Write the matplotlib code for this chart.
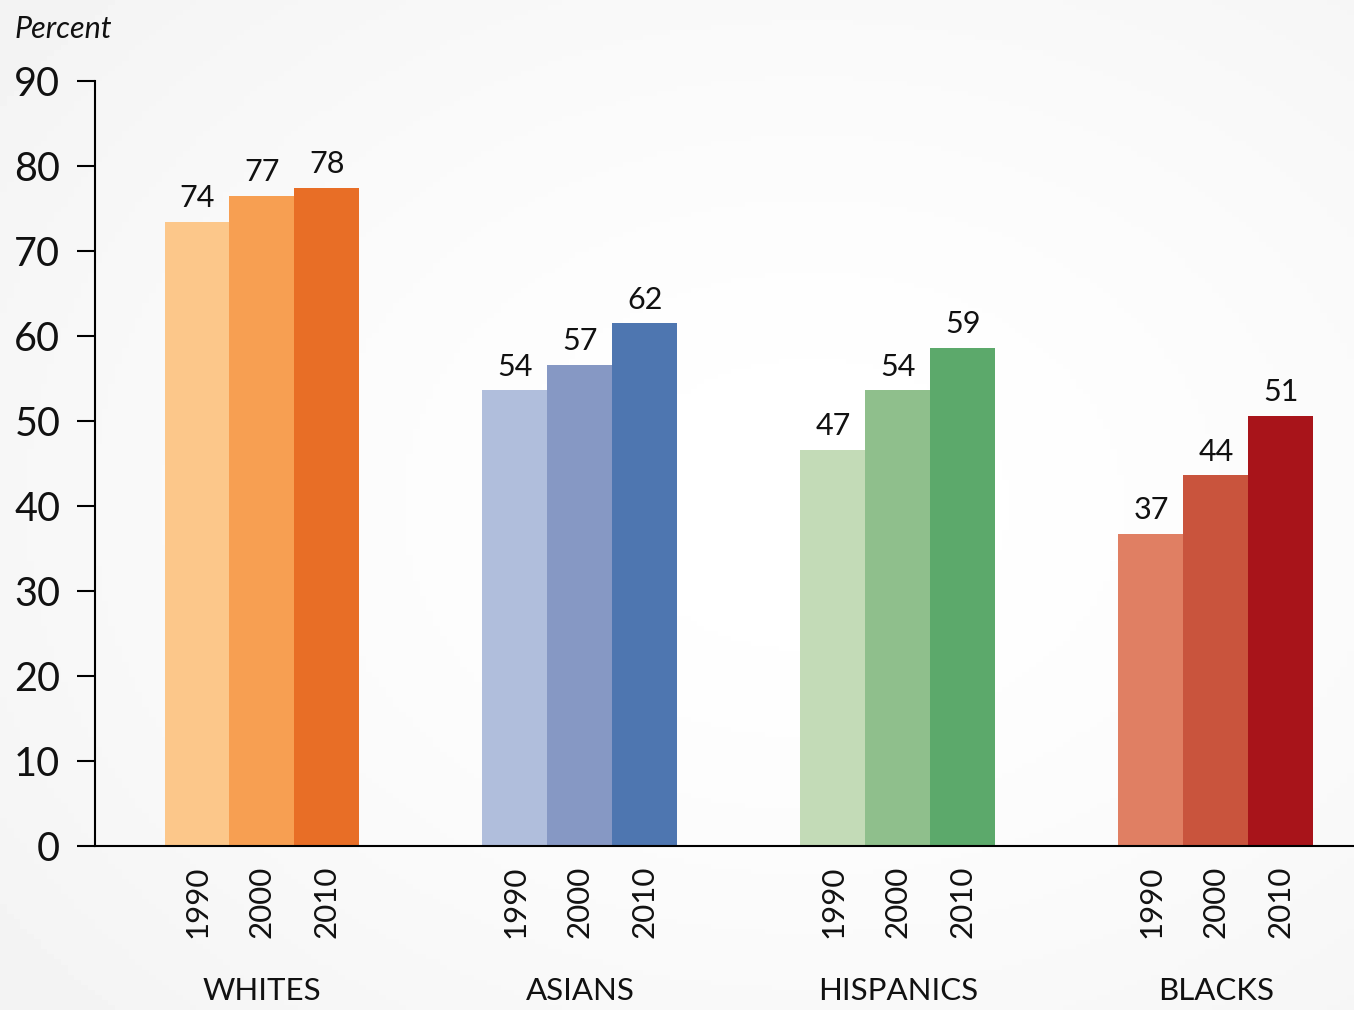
import numpy as np
import matplotlib.pyplot as plt
from matplotlib import transforms

plt.rcParams["font.family"] = ["Lato", "DejaVu Sans"]

# ---------------------------------------------------------
# Data
# ---------------------------------------------------------
groups = ["WHITES", "ASIANS", "HISPANICS", "BLACKS"]
years = ["1990", "2000", "2010"]

whites = [73.4, 76.5, 77.4]
asians = [53.6, 56.6, 61.5]
hispanics = [46.6, 53.6, 58.6]
blacks = [36.7, 43.6, 50.6]

whites_labels = ["74", "77", "78"]
asians_labels = ["54", "57", "62"]
hispanics_labels = ["47", "54", "59"]
blacks_labels = ["37", "44", "51"]

series = [whites, asians, hispanics, blacks]
labels = [whites_labels, asians_labels, hispanics_labels, blacks_labels]

colors = [
    ["#fcc78a", "#f79f52", "#e86e26"],
    ["#b0bedc", "#8698c4", "#4e76b0"],
    ["#c3dbb7", "#8fbf8c", "#5ca96b"],
    ["#e07f63", "#c9543d", "#a8141a"],
]

# ---------------------------------------------------------
# Figure + soft background
# ---------------------------------------------------------
fig = plt.figure(figsize=(13.54, 10.10), dpi=100)

bg = fig.add_axes([0, 0, 1, 1], zorder=-1)
yy, xx = np.mgrid[0:1:200j, 0:1:200j]
dist = np.sqrt(((xx - 0.6) / 0.9) ** 2 + ((yy - 0.5) / 0.9) ** 2)
bg.imshow(1 - 0.06 * np.clip(dist, 0, 1) ** 1.5, cmap="gray",
          vmin=0, vmax=1, aspect="auto", extent=[0, 1, 0, 1])
bg.axis("off")

ax = fig.add_axes([0.0702, 0.1624, 0.9298, 0.7574])
ax.set_facecolor("none")

width = 0.2044
centers = np.arange(len(groups))

tick_pos = []
tick_lab = []

for g, (vals, labs, cols) in enumerate(zip(series, labels, colors)):
    for i, (v, lab, c) in enumerate(zip(vals, labs, cols)):
        x = centers[g] + (i - 1) * width
        ax.bar(x, v, width=width, color=c, linewidth=0)
        ax.annotate(lab, (x, v), xytext=(0, 7), textcoords="offset points",
                    ha="center", va="bottom", fontsize=22, color="#111111")
        tick_pos.append(x)
        tick_lab.append(years[i])

    ax.text(centers[g], 0.005, groups[g],
            transform=transforms.blended_transform_factory(ax.transData, fig.transFigure),
            ha="center", va="bottom", fontsize=22.5, color="#111111")

ax.set_xlim(-0.525, 3.434)
ax.set_ylim(0, 90)

ax.set_yticks(range(0, 91, 10))
ax.tick_params(axis="y", length=13, width=1.5, pad=12, labelsize=28.5,
               labelcolor="#111111")

ax.set_xticks(tick_pos)
ax.set_xticklabels(tick_lab, rotation=90, fontsize=22.5, color="#111111")
ax.tick_params(axis="x", length=0, pad=14)

for side in ["top", "right"]:
    ax.spines[side].set_visible(False)
ax.spines["left"].set_linewidth(1.5)
ax.spines["bottom"].set_linewidth(1.5)

fig.text(0.011, 0.985, "Percent", style="italic", fontsize=22,
         ha="left", va="top", color="#111111")

fig.savefig("out.png", dpi=100)
plt.close(fig)
